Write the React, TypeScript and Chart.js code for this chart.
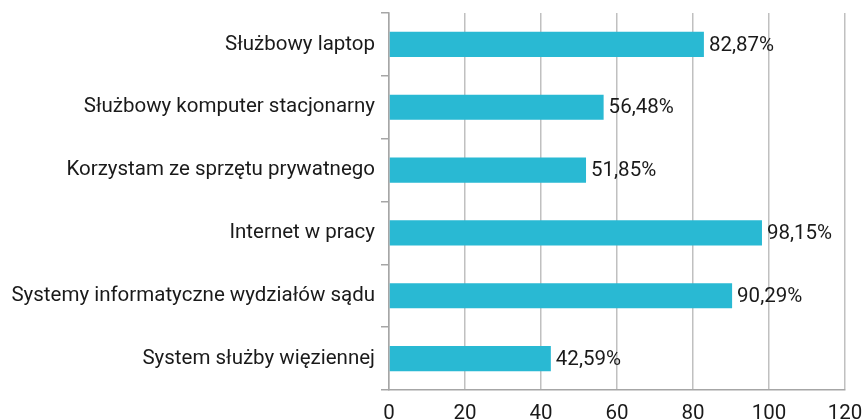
import React, { useEffect, useRef } from "react";
import { Chart, registerables } from "chart.js";

Chart.register(...registerables);

const categories = [
  "Służbowy laptop",
  "Służbowy komputer stacjonarny",
  "Korzystam ze sprzętu prywatnego",
  "Internet w pracy",
  "Systemy informatyczne wydziałów sądu",
  "System służby więziennej",
];
const values = [82.87, 56.48, 51.85, 98.15, 90.29, 42.59];
const valueLabels = ["82,87%", "56,48%", "51,85%", "98,15%", "90,29%", "42,59%"];

const FONT = "Roboto, 'Noto Sans', sans-serif";
const FONT_SIZE = 20.5;

const dataLabelPlugin = {
  id: "dataLabels",
  afterDatasetsDraw(chart: any) {
    const ctx = chart.ctx;
    const meta = chart.getDatasetMeta(0);
    ctx.save();
    ctx.font = `${FONT_SIZE}px ${FONT}`;
    ctx.fillStyle = "#1a1a1a";
    ctx.textAlign = "left";
    ctx.textBaseline = "middle";
    meta.data.forEach((bar: any, i: number) => {
      ctx.fillText(valueLabels[i], bar.x + 5, bar.y + 1);
    });
    ctx.restore();
  },
};

export default function App() {
  const ref = useRef<HTMLCanvasElement>(null);
  useEffect(() => {
    if (!ref.current) return;
    const chart = new Chart(ref.current, {
      type: "bar",
      data: {
        labels: categories,
        datasets: [
          {
            data: values,
            backgroundColor: "#29B9D3",
            borderWidth: 0,
            barPercentage: 0.4,
            categoryPercentage: 1,
          },
        ],
      },
      options: {
        indexAxis: "y",
        animation: false,
        responsive: false,
        maintainAspectRatio: false,
        layout: { padding: { top: 13, right: 21, bottom: 0, left: 0 } },
        plugins: {
          legend: { display: false },
          tooltip: { enabled: false },
        },
        scales: {
          x: {
            min: 0,
            max: 120,
            afterFit: (s: any) => {
              s.height = 30;
              s.paddingLeft = 0;
              s.paddingRight = 0;
            },
            ticks: {
              stepSize: 20,
              color: "#1a1a1a",
              font: { family: FONT, size: FONT_SIZE },
              padding: 12,
              maxRotation: 0,
            },
            grid: {
              color: "#c0c0c0",
              lineWidth: 1.5,
              drawTicks: false,
            },
            border: { display: true, color: "#a6a6a6", width: 1.5 },
          },
          y: {
            offset: true,
            afterFit: (s: any) => {
              s.width = 389;
              s.paddingTop = 0;
              s.paddingBottom = 0;
            },
            ticks: {
              color: "#1a1a1a",
              font: { family: FONT, size: FONT_SIZE },
              padding: 6,
            },
            grid: {
              offset: true,
              drawOnChartArea: false,
              drawTicks: true,
              tickLength: 8,
              color: "#a6a6a6",
              lineWidth: 1.5,
            },
            border: { display: true, color: "#a6a6a6", width: 1.5 },
          },
        },
      },
      plugins: [dataLabelPlugin],
    });
    return () => chart.destroy();
  }, []);
  return (
    <div style={{ position: "fixed", left: 0, top: 0, width: 866, height: 420, background: "#fff" }}>
      <canvas ref={ref} width={866} height={420} style={{ width: 866, height: 420 }} />
    </div>
  );
}
